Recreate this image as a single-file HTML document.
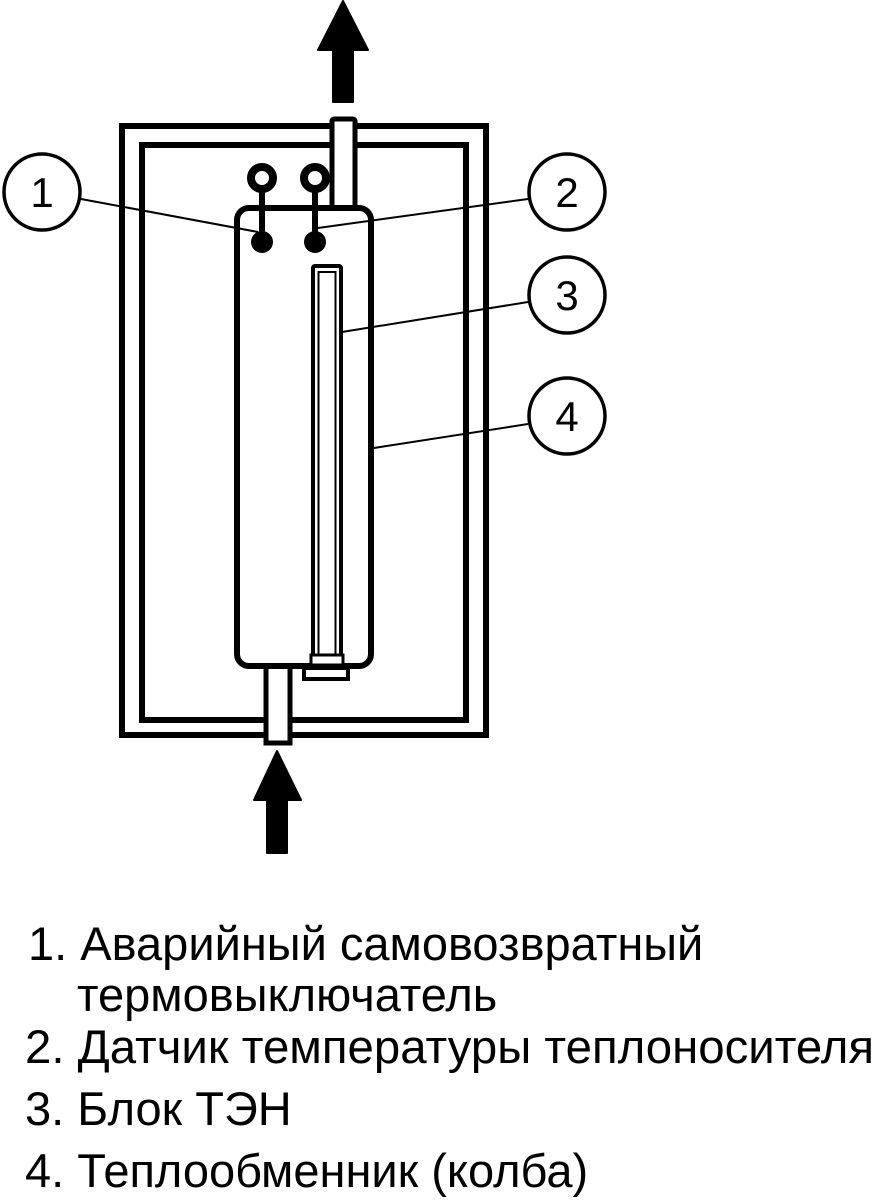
<!DOCTYPE html>
<html><head><meta charset="utf-8"><style>
html,body{margin:0;padding:0;background:#fff;}
svg{display:block;}
text{font-family:"Liberation Sans",sans-serif;fill:#000;}
</style></head><body>
<svg width="874" height="1200" viewBox="0 0 874 1200" xmlns="http://www.w3.org/2000/svg">
<rect x="122" y="126" width="364" height="609" fill="none" stroke="#000" stroke-width="6"/>
<rect x="142" y="145" width="324" height="575" fill="none" stroke="#000" stroke-width="6"/>
<rect x="332" y="119" width="23" height="92" fill="#fff" stroke="#000" stroke-width="5" rx="2"/>
<rect x="266" y="663" width="24" height="80" fill="#fff" stroke="#000" stroke-width="5"/>
<rect x="237" y="208" width="134" height="458" rx="12" fill="#fff" stroke="#000" stroke-width="6"/>
<rect x="313" y="266" width="28" height="400" fill="#fff" stroke="#000" stroke-width="4" rx="2"/>
<rect x="318.5" y="272" width="17" height="386" fill="#fff" stroke="#000" stroke-width="2"/>
<rect x="311" y="655" width="32" height="10" fill="#fff" stroke="#000" stroke-width="3"/>
<rect x="304" y="668" width="44" height="11" fill="#fff" stroke="#000" stroke-width="4"/>
<line x1="262" y1="178" x2="262" y2="242" stroke="#000" stroke-width="6"/>
<line x1="315" y1="178" x2="315" y2="242" stroke="#000" stroke-width="6"/>
<circle cx="262" cy="178" r="11" fill="#fff" stroke="#000" stroke-width="8"/>
<circle cx="315" cy="178" r="11" fill="#fff" stroke="#000" stroke-width="8"/>
<circle cx="262" cy="242" r="11" fill="#000"/>
<circle cx="315" cy="242" r="11" fill="#000"/>
<polygon points="343,1 368,50 353,50 353,102 333,102 333,50 318,50" fill="#000" stroke="#000" stroke-width="2" stroke-linejoin="round"/>
<polygon points="277,751 301,800 287,800 287,853 267,853 267,800 254,800" fill="#000" stroke="#000" stroke-width="2" stroke-linejoin="round"/>
<g stroke="#000" stroke-width="2">
<line x1="81" y1="199" x2="258" y2="232"/>
<line x1="528" y1="199" x2="318" y2="228"/>
<line x1="528" y1="302" x2="342" y2="332"/>
<line x1="528" y1="424" x2="374" y2="448"/>
</g>
<g fill="#fff" stroke="#000" stroke-width="3.5">
<circle cx="42" cy="192" r="38"/>
<circle cx="567" cy="192" r="38"/>
<circle cx="567" cy="295" r="38"/>
<circle cx="567" cy="416" r="38"/>
</g>
<g font-size="42" text-anchor="middle">
<text x="42" y="207">1</text>
<text x="567" y="207">2</text>
<text x="567" y="310">3</text>
<text x="567" y="431">4</text>
</g>
<g font-size="47">
<text x="28" y="960">1. Аварийный самовозвратный</text>
<text x="77" y="1011">термовыключатель</text>
<text x="25" y="1063" textLength="849" lengthAdjust="spacingAndGlyphs">2. Датчик температуры теплоносителя</text>
<text x="25" y="1125">3. Блок ТЭН</text>
<text x="25" y="1187">4. Теплообменник (колба)</text>
</g>
</svg>
</body></html>
